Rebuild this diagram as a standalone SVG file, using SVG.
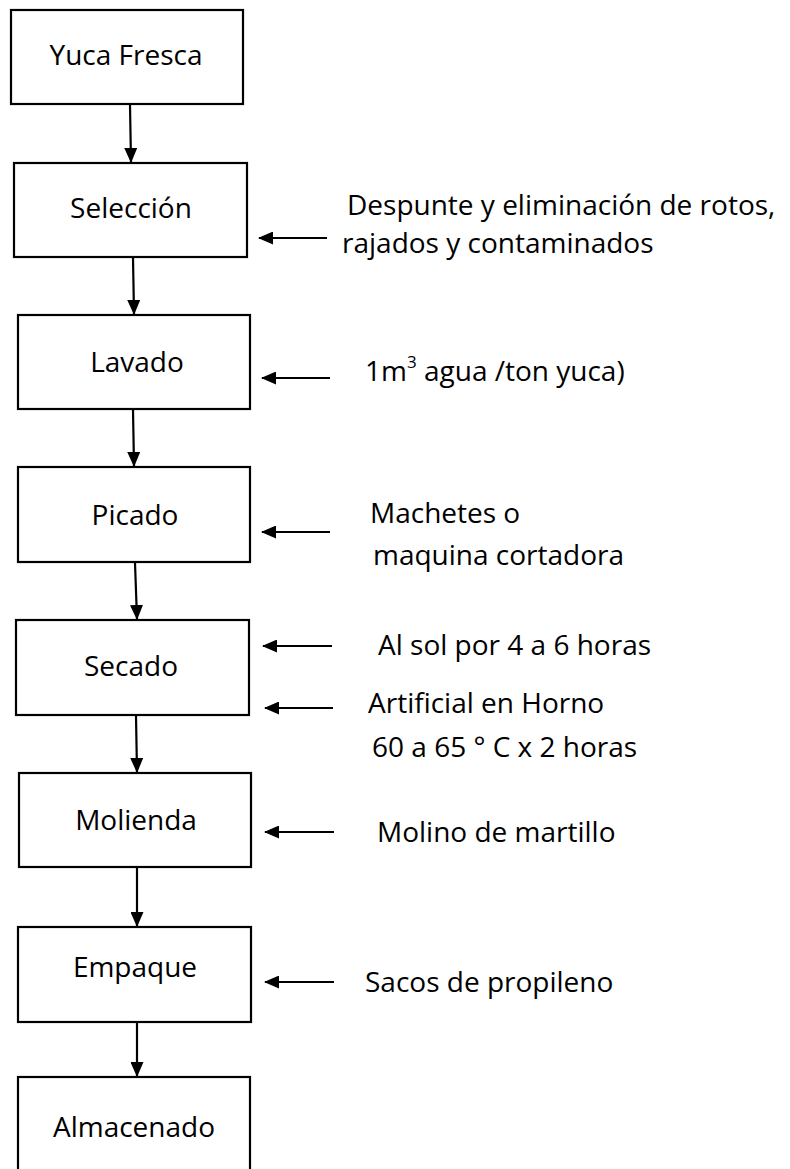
<svg xmlns="http://www.w3.org/2000/svg" width="790" height="1169" viewBox="0 0 790 1169">
<style>
.box{fill:#fff;stroke:#000;stroke-width:2.2}
.t{font-family:"Open Sans","Liberation Sans",sans-serif;font-size:28px;fill:#000}
.c{text-anchor:middle}
.ln{stroke:#000;stroke-width:2.2;fill:none;marker-end:url(#ah)}
</style>
<defs>
<marker id="ah" markerUnits="userSpaceOnUse" markerWidth="15" markerHeight="13" refX="14" refY="6.5" orient="auto">
<path d="M0,0 L15,6.5 L0,13 Z" fill="#000"/>
</marker>
</defs>
<rect width="790" height="1169" fill="#fff"/>
<g id="n1"><rect class="box" x="11" y="10" width="232" height="94"/><text class="t c" x="126" y="65">Yuca Fresca</text></g>
<g id="n2"><rect class="box" x="14" y="163" width="233" height="94"/><text class="t c" x="131" y="218">Selección</text></g>
<g id="n3"><rect class="box" x="18" y="315" width="232" height="94"/><text class="t c" x="137" y="372">Lavado</text></g>
<g id="n4"><rect class="box" x="18" y="467" width="232" height="95"/><text class="t c" x="135" y="525">Picado</text></g>
<g id="n5"><rect class="box" x="16" y="620" width="233" height="95"/><text class="t c" x="131" y="676">Secado</text></g>
<g id="n6"><rect class="box" x="19" y="773" width="232" height="94"/><text class="t c" x="136" y="830">Molienda</text></g>
<g id="n7"><rect class="box" x="18" y="927" width="233" height="95"/><text class="t c" x="135" y="977">Empaque</text></g>
<g id="n8"><rect class="box" x="18" y="1077" width="232" height="110"/><text class="t c" x="134" y="1137">Almacenado</text></g>
<g id="labels">
<text class="t" x="347" y="215">Despunte y eliminación de rotos,</text>
<text class="t" x="342" y="253">rajados y contaminados</text>
<text class="t" x="365" y="381">1m<tspan font-size="17" dy="-13">3</tspan><tspan dy="13"> agua /ton yuca)</tspan></text>
<text class="t" x="370" y="523">Machetes o</text>
<text class="t" x="373" y="565">maquina cortadora</text>
<text class="t" x="378" y="655">Al sol por 4 a 6 horas</text>
<text class="t" x="368" y="713">Artificial en Horno</text>
<text class="t" x="372" y="757">60 a 65 ° C x 2 horas</text>
<text class="t" x="377" y="842">Molino de martillo</text>
<text class="t" x="365" y="992">Sacos de propileno</text>
</g>
<g id="connectors">
<line class="ln" x1="130" y1="105" x2="131" y2="162"/>
<line class="ln" x1="133" y1="258" x2="134" y2="314"/>
<line class="ln" x1="133" y1="410" x2="134" y2="466"/>
<line class="ln" x1="135" y1="563" x2="137" y2="619"/>
<line class="ln" x1="136" y1="716" x2="137" y2="772"/>
<line class="ln" x1="137" y1="868" x2="137" y2="926"/>
<line class="ln" x1="137" y1="1023" x2="137" y2="1076"/>
<line class="ln" x1="327" y1="238" x2="259" y2="238"/>
<line class="ln" x1="330" y1="378" x2="262" y2="378"/>
<line class="ln" x1="330" y1="532" x2="262" y2="532"/>
<line class="ln" x1="332" y1="646" x2="263" y2="646"/>
<line class="ln" x1="333" y1="708" x2="265" y2="708"/>
<line class="ln" x1="334" y1="832" x2="265" y2="832"/>
<line class="ln" x1="334" y1="982" x2="265" y2="982"/>
</g>
</svg>
